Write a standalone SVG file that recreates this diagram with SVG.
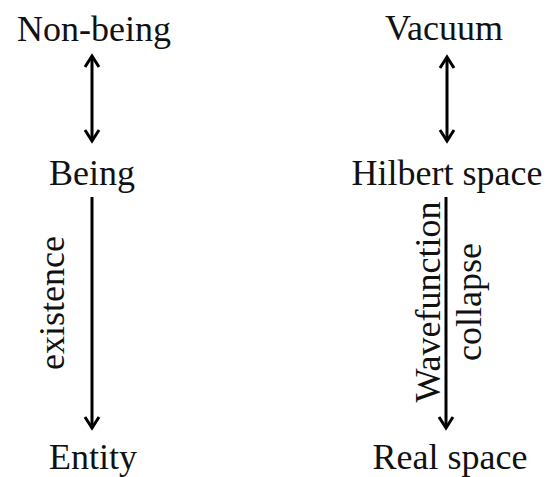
<svg xmlns="http://www.w3.org/2000/svg" width="548" height="477" viewBox="0 0 548 477">
<style>
  .lbl { font-family: "Liberation Serif", "Times New Roman", serif; font-size: 36px; fill: #111; }
  .mid { text-anchor: middle; }
  .edge { stroke: #000; stroke-width: 3; fill: none; }
</style>
<defs>
  <marker id="head" markerUnits="userSpaceOnUse" viewBox="-14 -10 18 20" refX="0" refY="0" markerWidth="18" markerHeight="20" orient="auto-start-reverse">
    <path d="M-11,-7 L0,0 L-11,7" fill="none" stroke="#000" stroke-width="3" stroke-linejoin="miter"/>
  </marker>
</defs>
<rect width="548" height="477" fill="#fff"/>
<g id="connectors">
  <line class="edge" x1="92" y1="56" x2="92" y2="141" marker-start="url(#head)" marker-end="url(#head)"/>
  <line class="edge" x1="447" y1="57" x2="447" y2="141" marker-start="url(#head)" marker-end="url(#head)"/>
  <line id="e-existence" class="edge" x1="92" y1="197" x2="92" y2="428" marker-end="url(#head)"/>
  <line id="e-collapse" class="edge" x1="446" y1="197" x2="446" y2="428" marker-end="url(#head)"/>
  <text class="lbl mid" transform="translate(64,303) rotate(-90)">existence</text>
  <text class="lbl mid" transform="translate(440,302) rotate(-90)">Wavefunction</text>
  <text class="lbl mid" transform="translate(481,302) rotate(-90)">collapse</text>
</g>
<g id="non-being"><text class="lbl mid" x="94" y="41">Non-being</text></g>
<g id="being"><text class="lbl mid" x="92" y="185">Being</text></g>
<g id="entity"><text class="lbl mid" x="93" y="469">Entity</text></g>
<g id="vacuum"><text class="lbl mid" x="444" y="40">Vacuum</text></g>
<g id="hilbert-space"><text class="lbl mid" x="447" y="185">Hilbert space</text></g>
<g id="real-space"><text class="lbl mid" x="450" y="469">Real space</text></g>
</svg>
